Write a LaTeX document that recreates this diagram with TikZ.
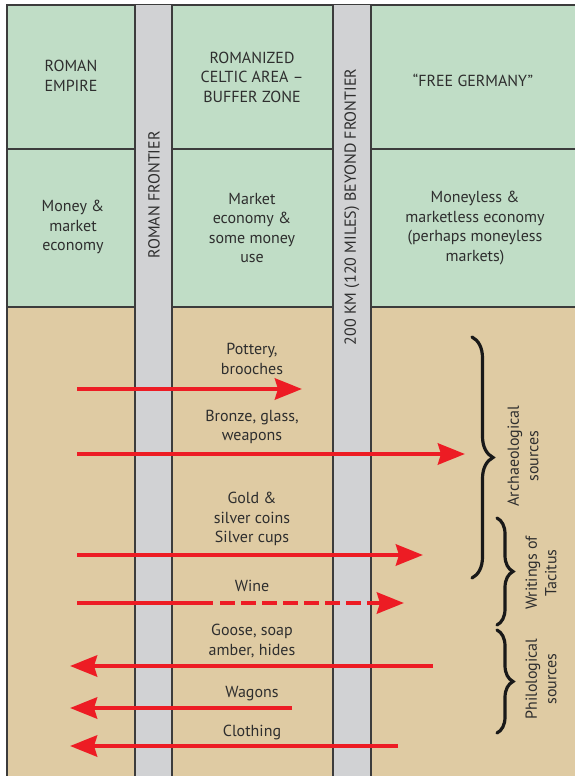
\documentclass[tikz,border=0pt]{standalone}
\usepackage{fontspec}
\setmainfont{PT Sans}
\usepackage{tikz}
\usetikzlibrary{arrows.meta,decorations.pathreplacing}
\definecolor{zonegreen}{HTML}{C0DDC6}
\definecolor{zonetan}{HTML}{DFCBA3}
\definecolor{frontiergray}{HTML}{D1D2D4}
\definecolor{edgegray}{HTML}{3C3C3C}
\definecolor{tradered}{HTML}{ED1C24}
\definecolor{inkgray}{HTML}{2E2E2E}

\begin{document}
\begin{tikzpicture}[
  x=1pt,y=-1pt,
  font=\fontsize{16}{19.5}\selectfont,
  lbl/.style={align=center,inner sep=1pt,text=inkgray},
  vlbl/.style={lbl,rotate=90},
  cell/.style={draw=edgegray,line width=1.2pt},
  trade/.style={draw=tradered,line width=4.5pt,-{Stealth[length=27pt,width=21pt,inset=3pt]}},
  tradeline/.style={draw=tradered,line width=4.5pt},
  src/.style={decorate,decoration={brace,amplitude=#1},line width=3.2pt,draw=black!90,line cap=round},
]
\useasboundingbox (0,0) rectangle (575,776);

% Zones: economy rows on green, trade goods on tan
\fill[zonegreen] (7,5) rectangle (575,307);
\fill[zonetan] (7,307) rectangle (575,776);
\draw[cell] (7,776) -- (7,5) -- (575,5);
\draw[cell] (7,149) -- (575,149);
\draw[cell] (7,307) -- (575,307);

% Frontier strips
\fill[frontiergray] (135,5) rectangle (172,776);
\fill[frontiergray] (333,5) rectangle (371,776);
\draw[cell] (135,5) -- (135,776) (172,5) -- (172,776);
\draw[cell] (333,5) -- (333,776) (371,5) -- (371,776);
\node[vlbl] (frontier) at (154,195) {ROMAN FRONTIER};
\node[vlbl] (beyond)   at (352,207) {200 KM (120 MILES) BEYOND FRONTIER};

% Top row: areas
\node[lbl] (empire)  at (71,76)   {ROMAN\\EMPIRE};
\node[lbl] (celtic)  at (252,77)  {ROMANIZED\\CELTIC AREA –\\BUFFER ZONE};
\node[lbl] (germany) at (473,80)  {“FREE GERMANY”};
% Second row: economies
\node[lbl] (money)     at (73,227)  {Money \&\\market\\economy};
\node[lbl] (market)    at (252,228) {Market\\economy \&\\some money\\use};
\node[lbl] (moneyless) at (475,228) {Moneyless \&\\marketless economy\\(perhaps moneyless\\markets)};

% Goods going out of the empire
\coordinate (pot-w)   at (77,389);  \coordinate (pot-e)   at (302,389);
\coordinate (bronze-w) at (77,454); \coordinate (bronze-e) at (465,454);
\coordinate (gold-w)  at (77,555);  \coordinate (gold-e)  at (423,555);
\coordinate (wine-w)  at (77,603);  \coordinate (wine-m)  at (213,603);
\coordinate (wine-d)  at (220,603); \coordinate (wine-e)  at (404,603);
\node[lbl] (pottery) at (252,359) {Pottery,\\brooches};
\node[lbl] (bronze)  at (252,427) {Bronze, glass,\\weapons};
\node[lbl] (gold)    at (252,519) {Gold \&\\silver coins\\Silver cups};
\node[lbl] (wine)    at (252,586) {Wine};
\draw[trade] (pot-w) -- (pot-e);
\draw[trade] (bronze-w) -- (bronze-e);
\draw[trade] (gold-w) -- (gold-e);
\draw[tradeline] (wine-w) -- (wine-m);
\draw[trade,dash pattern=on 15pt off 6pt] (wine-d) -- (wine-e);

% Goods coming back
\coordinate (goose-e)  at (433,666); \coordinate (goose-w)  at (70,666);
\coordinate (wagon-e)  at (292,708); \coordinate (wagon-w)  at (70,708);
\coordinate (cloth-e)  at (398,746); \coordinate (cloth-w)  at (70,746);
\node[lbl] (goose)    at (252,641) {Goose, soap\\amber, hides};
\node[lbl] (wagons)   at (252,694) {Wagons};
\node[lbl] (clothing) at (252,732) {Clothing};
\draw[trade] (goose-e) -- (goose-w);
\draw[trade] (wagon-e) -- (wagon-w);
\draw[trade] (cloth-e) -- (cloth-w);

% Sources
\coordinate (arch-t) at (472,337); \coordinate (arch-b) at (472,578);
\coordinate (tac-t)  at (497,518); \coordinate (tac-b)  at (497,625);
\coordinate (phil-t) at (497,630); \coordinate (phil-b) at (497,733);
\draw[src=21pt] (arch-t) -- (arch-b);
\draw[src=16pt] (tac-t) -- (tac-b);
\draw[src=16pt] (phil-t) -- (phil-b);
\node[vlbl] (arch)  at (523,456) {Archaeological\\sources};
\node[vlbl] (tac)   at (541,573) {Writings of\\Tacitus};
\node[vlbl] (phil)  at (541,679) {Philological\\sources};
\end{tikzpicture}
\end{document}
